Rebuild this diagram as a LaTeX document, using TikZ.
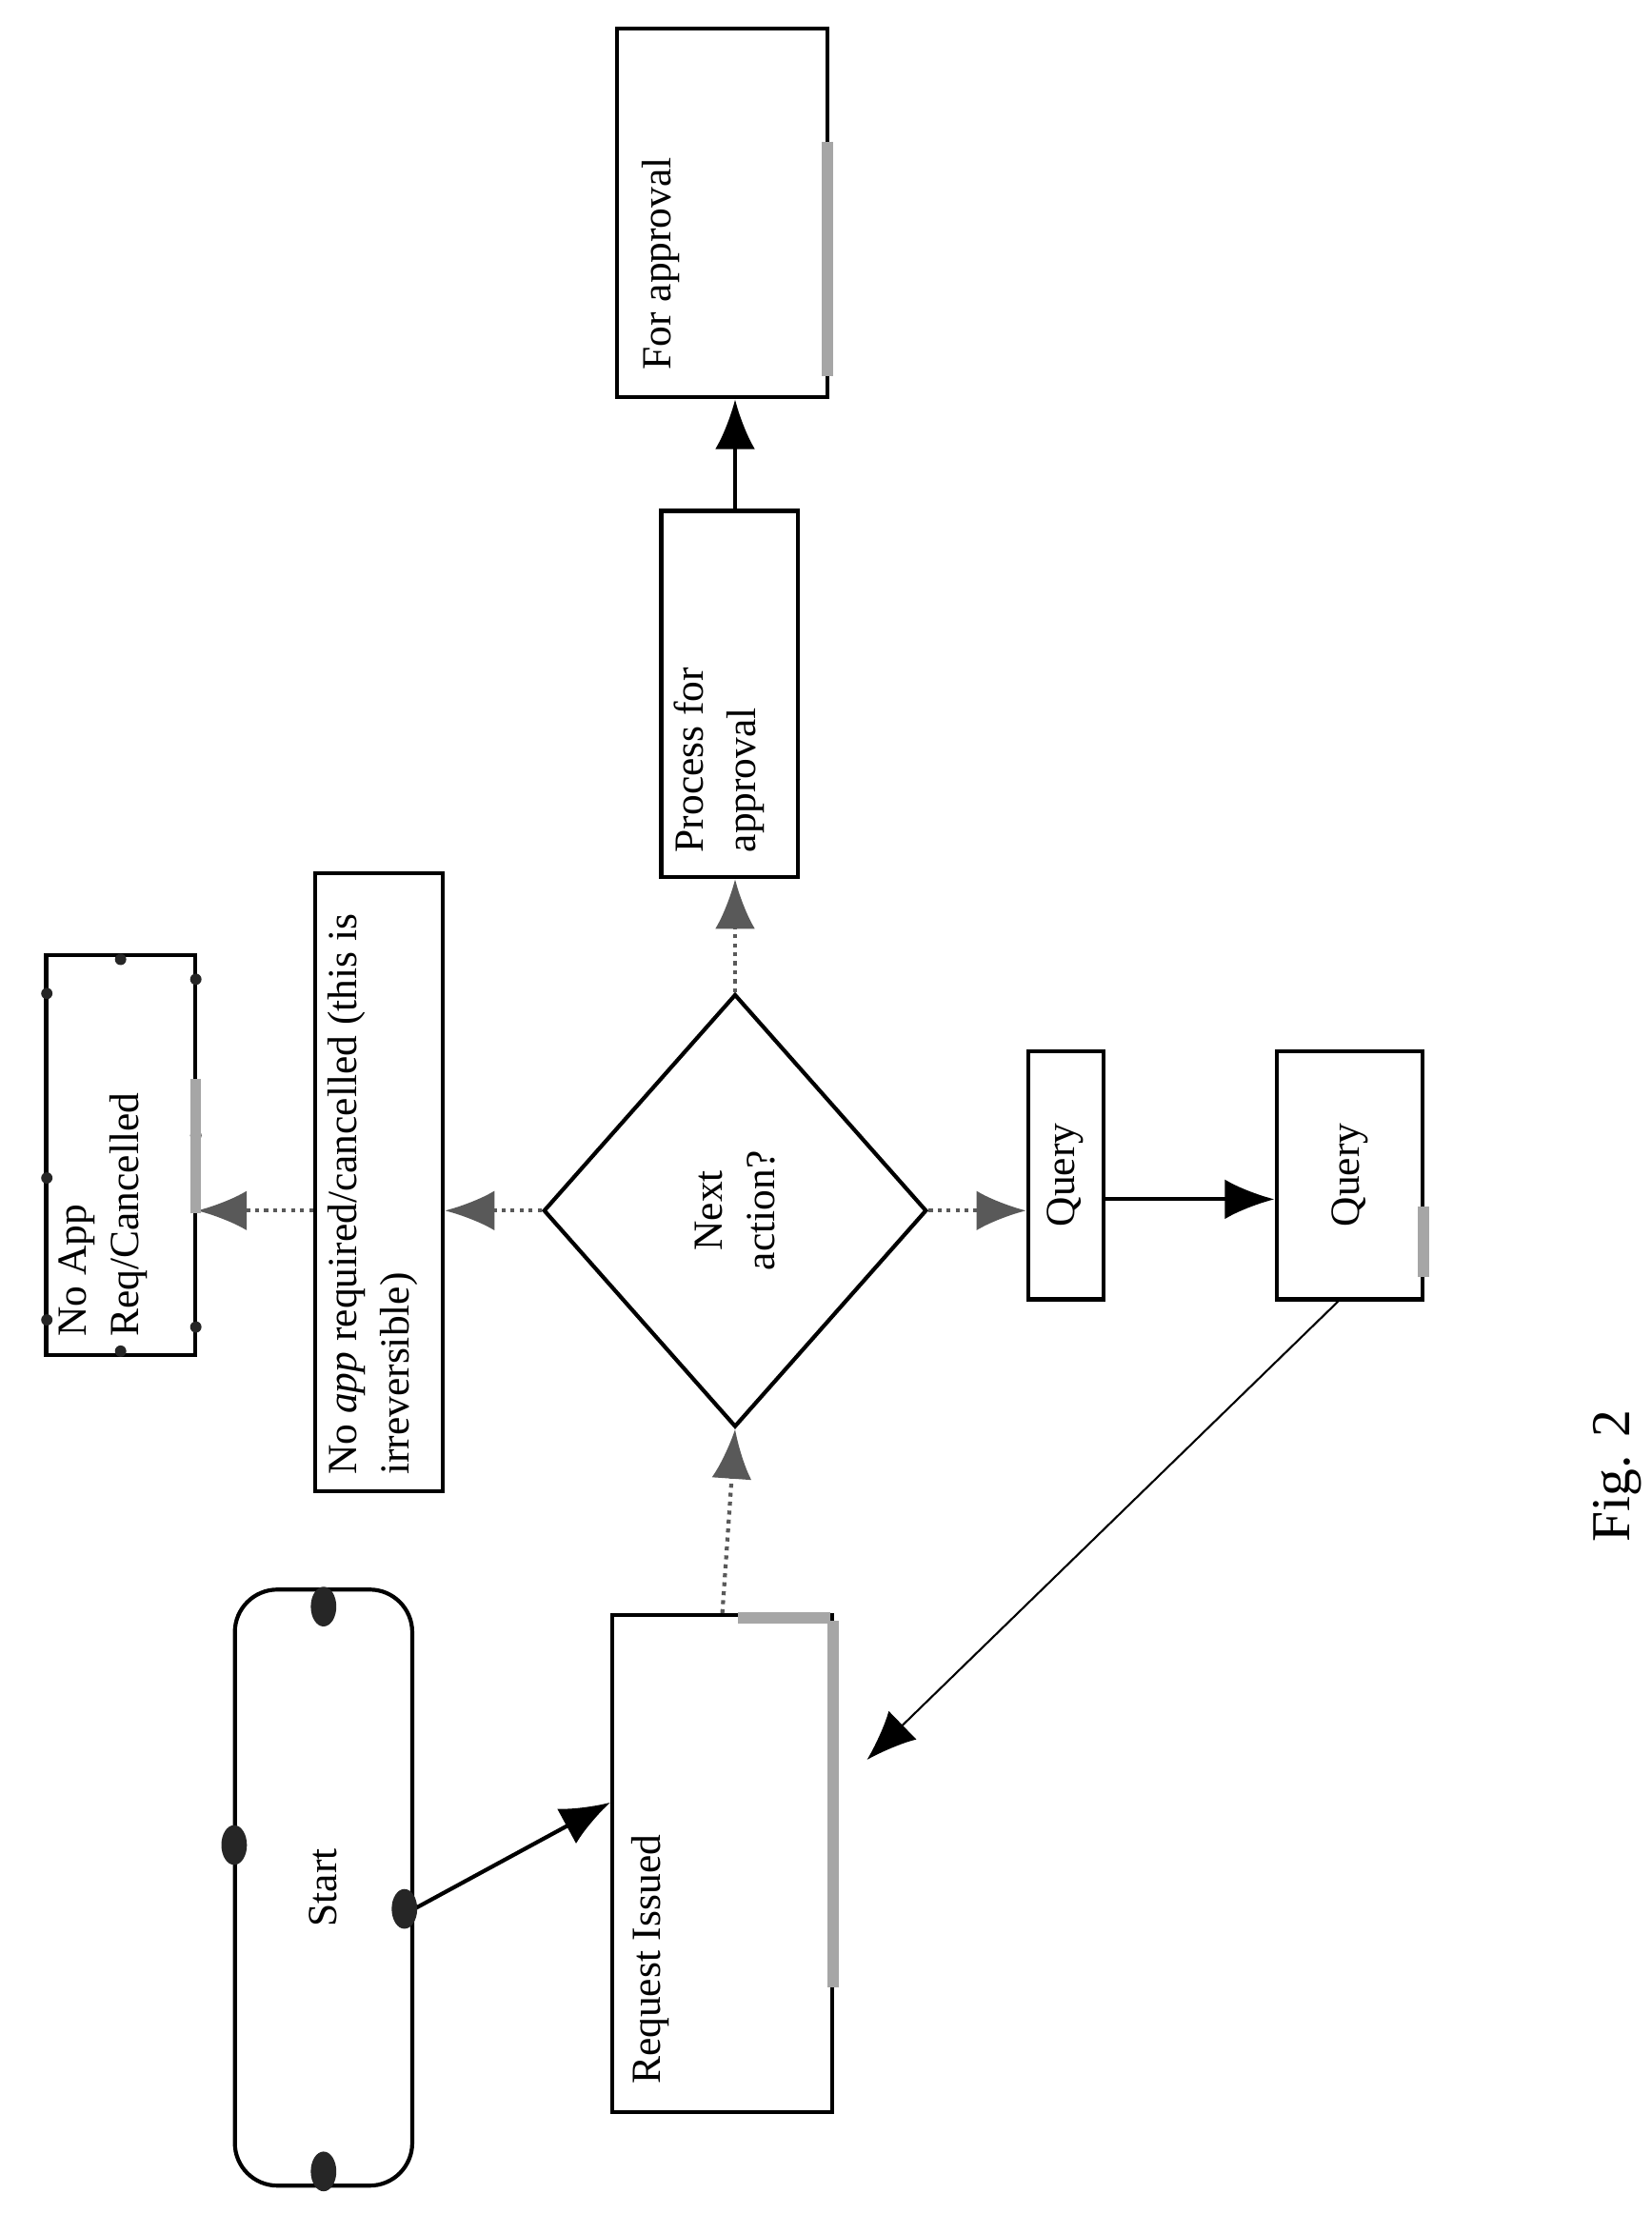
\documentclass[tikz,border=0pt]{standalone}
\usepackage{fontspec}
\setmainfont{Liberation Serif}
\usetikzlibrary{shapes.geometric,arrows.meta}
\tikzset{
    box/.style={draw, thick, inner sep=0pt},
    txt/.style={rotate=90, font=\fontsize{8.3}{10.5}\selectfont, align=left, inner sep=0pt},
    flow/.style={-{Latex[length=3.5mm,width=2.8mm]}, thick},
    dflow/.style={-{Latex[length=3.5mm,width=2.8mm]}, thick, densely dotted, gray!70!black},
    grip/.style={line width=2.2pt, gray!70},
    blob/.style={fill=black!85, draw=none}
}
\begin{document}
\begin{tikzpicture}[x=0.1mm, y=-0.1mm]
    \useasboundingbox (0,0) rectangle (1164,1560);

    % --- Boxes (page coordinates of the centres) ---
    \node[box, rounded corners=3mm, minimum width=12.5mm, minimum height=42mm] (start) at (228,1330) {};
    \node[box, minimum width=15.5mm, minimum height=35mm] (req) at (509,1313) {};
    \node[box, diamond, minimum width=27mm, minimum height=30.5mm] (next) at (518,853) {};
    \node[box, minimum width=9mm, minimum height=43.5mm] (noapp) at (267,833) {};
    \node[box, minimum width=10.5mm, minimum height=28.2mm] (cancel) at (85,814) {};
    \node[box, minimum width=9.6mm, minimum height=25.8mm] (proc) at (514,489) {};
    \node[box, minimum width=14.8mm, minimum height=26mm] (appr) at (509,150) {};
    \node[box, minimum width=5.3mm, minimum height=17.5mm] (q1) at (751,828) {};
    \node[box, minimum width=10.3mm, minimum height=17.5mm] (q2) at (951,828) {};

    % --- Texts ---
    \node[txt] at (start.center) {Start};
    \node[txt, anchor=north west] at ([shift={(14,-20)}]req.south west) {Request Issued};
    \node[txt, align=center] at (next.center) {Next\\action?};
    \node[txt, anchor=north west] at ([shift={(10,-12)}]noapp.south west) {No \textit{app} required/cancelled (this is\\irreversible)};
    \node[txt, anchor=north west] at ([shift={(10,-14)}]cancel.south west) {No App\\Req/Cancelled};
    \node[txt, anchor=north west] at ([shift={(10,-18)}]proc.south west) {Process for\\approval};
    \node[txt, anchor=north west] at ([shift={(18,-20)}]appr.south west) {For approval};
    \node[txt] at (q1.center) {Query};
    \node[txt] at (q2.center) {Query};
    \node[rotate=90, font=\fontsize{11}{13}\selectfont] (fig) at (1140,1040) {Fig. 2};

    % --- Connectors ---
    \draw[flow] ([shift={(0,15)}]start.east) -- ([shift={(0,-43)}]req.west);
    \draw[dflow] (req.north) -- (next.south);
    \draw[dflow] (next.west) -- (noapp.east |- next.west);
    \draw[dflow] (noapp.west |- next.west) -- (cancel.east |- next.west);
    \draw[dflow] (next.north) -- (proc.south -| next.north);
    \draw[flow] (proc.north -| next.north) -- (appr.south -| next.north);
    \draw[dflow] (next.east) -- (q1.west |- next.east);
    \draw[flow] ([shift={(0,17)}]q1.east) -- ([shift={(0,17)}]q2.west);
    \draw[flow, thin] ([shift={(-8,0)}]q2.south) -- ([shift={(23,-73)}]req.east);

    % --- Selection handles ---
    \foreach \p in {(228,1132),(228,1530),(165,1300),(285,1345)}
        \fill[blob] \p ellipse (9 and 14);
    \foreach \p in {(33,700),(33,830),(33,930),(85,676),(85,952),(138,690),(138,800),(138,935)}
        \fill[blob] \p circle (4);
    \draw[grip] (587,1142) -- (587,1400);
    \draw[grip] (520,1140) -- (585,1140);
    \draw[grip] (583,265) -- (583,100);
    \draw[grip] (138,855) -- (138,760);
    \draw[grip] (1003,900) -- (1003,850);
\end{tikzpicture}
\end{document}
